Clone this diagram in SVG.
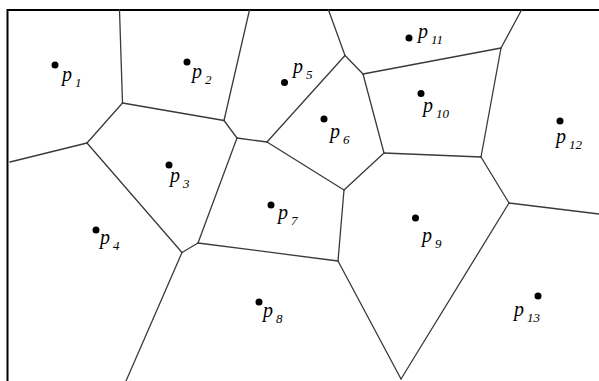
<svg xmlns="http://www.w3.org/2000/svg" width="599" height="381" viewBox="0 0 599 381">
<style>
.e{stroke:#3a3a3a;stroke-width:1.3;fill:none;stroke-linecap:round}
.b{stroke:#000;stroke-width:2;fill:none}
.d{fill:#000}
.t{font-family:"Liberation Serif","Times New Roman",serif;font-style:italic;font-size:20px;fill:#000}
.s{font-size:13px}
</style>
<rect width="599" height="381" fill="#fff"/>
<path class="b" d="M7.5,381 V10 H599"/>
<g id="connectors">
<path class="e" d="M122.5,103 L119.5,10"/>
<path class="e" d="M122.5,103 L224,120.5"/>
<path class="e" d="M224,120.5 L249.5,10"/>
<path class="e" d="M224,120.5 L237,138"/>
<path class="e" d="M237,138 L267,142"/>
<path class="e" d="M122.5,103 L87,143"/>
<path class="e" d="M87,143 L10,162"/>
<path class="e" d="M87,143 L182,252.5"/>
<path class="e" d="M182,252.5 L198,243"/>
<path class="e" d="M182,252.5 L126,381"/>
<path class="e" d="M198,243 L237,138"/>
<path class="e" d="M198,243 L338,261"/>
<path class="e" d="M338,261 L344,190"/>
<path class="e" d="M267,142 L344,190"/>
<path class="e" d="M344,190 L384,153"/>
<path class="e" d="M384,153 L363,74"/>
<path class="e" d="M363,74 L345,55.5"/>
<path class="e" d="M345,55.5 L328.5,10"/>
<path class="e" d="M345,55.5 L267,142"/>
<path class="e" d="M363,74 L501,48"/>
<path class="e" d="M501,48 L521.5,10"/>
<path class="e" d="M501,48 L481,157"/>
<path class="e" d="M384,153 L481,157"/>
<path class="e" d="M481,157 L509,203"/>
<path class="e" d="M509,203 L599,214"/>
<path class="e" d="M509,203 L401,379"/>
<path class="e" d="M338,261 L401,379"/>
</g>
<g id="p1"><circle class="d" cx="55" cy="65" r="3.5"/><text class="t" x="62" y="81">p<tspan class="s" dx="3" dy="6">1</tspan></text></g>
<g id="p2"><circle class="d" cx="187" cy="62" r="3.5"/><text class="t" x="192" y="78">p<tspan class="s" dx="3" dy="6">2</tspan></text></g>
<g id="p3"><circle class="d" cx="169" cy="165" r="3.5"/><text class="t" x="170" y="182">p<tspan class="s" dx="3" dy="6">3</tspan></text></g>
<g id="p4"><circle class="d" cx="96" cy="230" r="3.5"/><text class="t" x="100" y="244">p<tspan class="s" dx="3" dy="6">4</tspan></text></g>
<g id="p5"><circle class="d" cx="284.5" cy="82.5" r="3.5"/><text class="t" x="293" y="73">p<tspan class="s" dx="3" dy="6">5</tspan></text></g>
<g id="p6"><circle class="d" cx="324" cy="119" r="3.5"/><text class="t" x="330" y="138">p<tspan class="s" dx="3" dy="6">6</tspan></text></g>
<g id="p7"><circle class="d" cx="271" cy="205" r="3.5"/><text class="t" x="278" y="219">p<tspan class="s" dx="3" dy="6">7</tspan></text></g>
<g id="p8"><circle class="d" cx="259" cy="302" r="3.5"/><text class="t" x="263" y="317">p<tspan class="s" dx="3" dy="6">8</tspan></text></g>
<g id="p9"><circle class="d" cx="415.5" cy="218" r="3.5"/><text class="t" x="422" y="242">p<tspan class="s" dx="3" dy="6">9</tspan></text></g>
<g id="p10"><circle class="d" cx="421" cy="93.5" r="3.5"/><text class="t" x="423" y="112">p<tspan class="s" dx="3" dy="6">10</tspan></text></g>
<g id="p11"><circle class="d" cx="409" cy="38" r="3.5"/><text class="t" x="418" y="37.5">p<tspan class="s" dx="3" dy="6">11</tspan></text></g>
<g id="p12"><circle class="d" cx="560" cy="121" r="3.5"/><text class="t" x="556" y="143">p<tspan class="s" dx="3" dy="6">12</tspan></text></g>
<g id="p13"><circle class="d" cx="538" cy="296" r="3.5"/><text class="t" x="514" y="316">p<tspan class="s" dx="3" dy="6">13</tspan></text></g>
</svg>
